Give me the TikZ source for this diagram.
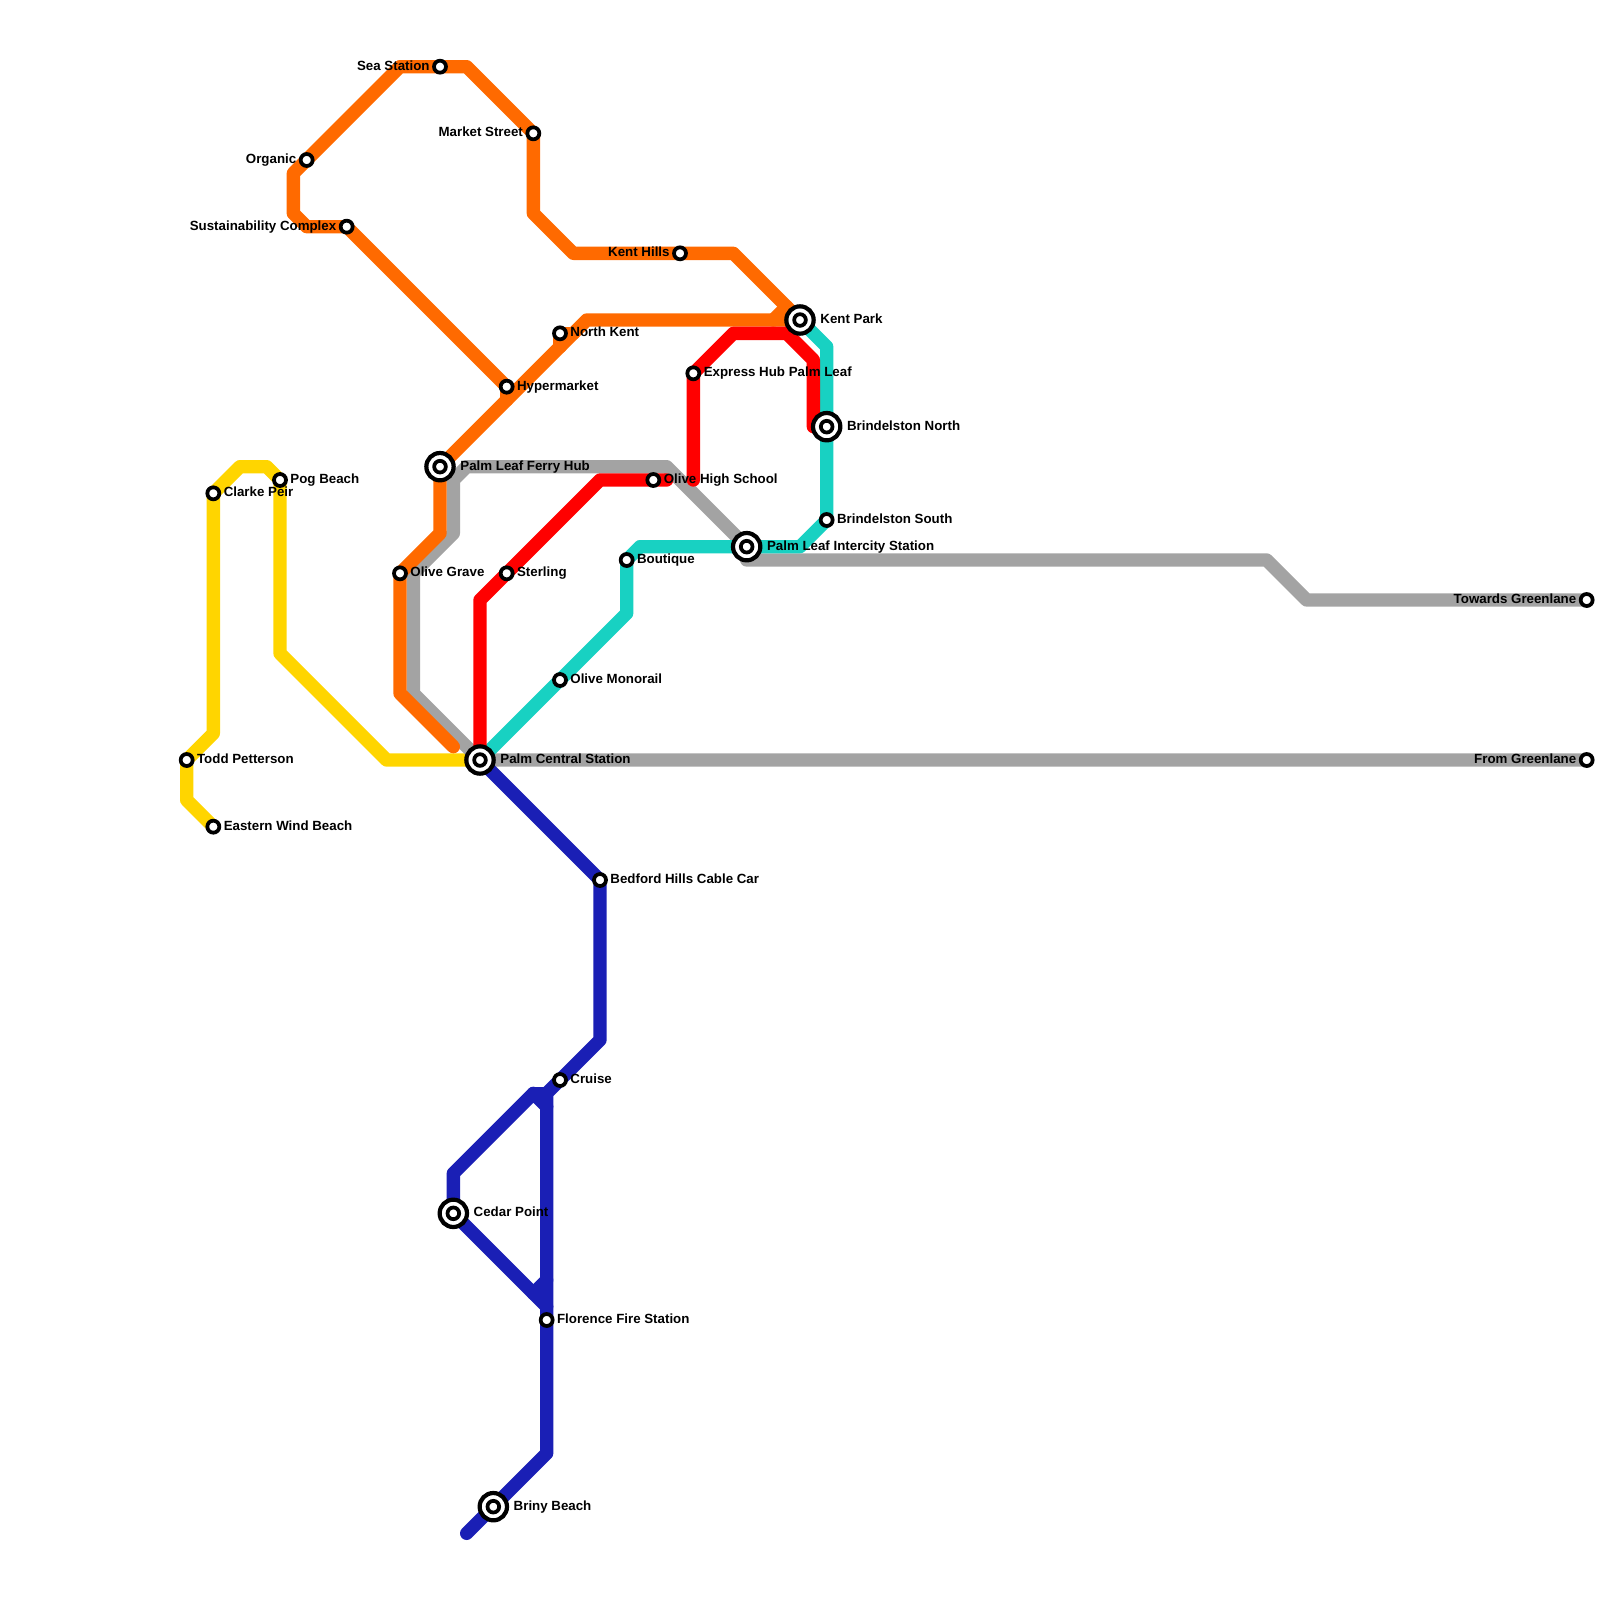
\documentclass[tikz,border=0pt]{standalone}
\usepackage{fontspec}
\setmainfont{Liberation Sans}
\usetikzlibrary{positioning}
\definecolor{lineOrange}{RGB}{255,106,0}
\definecolor{lineRed}{RGB}{255,0,0}
\definecolor{lineGrey}{RGB}{163,163,163}
\definecolor{lineTeal}{RGB}{24,209,194}
\definecolor{lineYellow}{RGB}{255,213,0}
\definecolor{lineBlue}{RGB}{26,31,181}
\pgfdeclarelayer{tracks}
\pgfsetlayers{tracks,main}
\tikzset{
  track/.style={line width=0.4cm, line cap=round, line join=round},
  stop/.style={circle, draw=black, fill=white, line width=3.2pt, minimum size=0.36cm, inner sep=0pt, outer sep=0pt},
  hubcore/.style={circle, draw=black, fill=white, line width=3.2pt, minimum size=0.35cm, inner sep=0pt, outer sep=0pt},
  hubring/.style={draw=black, fill=white, line width=3.6pt},
  stopname/.style={font=\bfseries\fontsize{11.36}{12}\selectfont, inner sep=0pt, text height=8.4pt, text depth=2.4pt, black}
}
\begin{document}
\begin{tikzpicture}[x=0.4cm, y=-0.4cm]
    \useasboundingbox (0,0) rectangle (120,120);
    % stops named to the right
    \foreach \n/\x/\y/\lbl in {northkent/42/25/North Kent, hypermarket/38/29/Hypermarket,
      expresshub/52/28/Express Hub Palm Leaf, pogbeach/21/36/Pog Beach, olivehigh/49/36/Olive High School,
      clarkepeir/16/37/Clarke Peir, brindelstonsouth/62/39/Brindelston South, boutique/47/42/Boutique,
      olivegrave/30/43/Olive Grave, sterling/38/43/Sterling, olivemonorail/42/51/Olive Monorail,
      toddpetterson/14/57/Todd Petterson, easternwind/16/62/Eastern Wind Beach,
      bedfordhills/45/66/Bedford Hills Cable Car, cruise/42/81/Cruise, florence/41/99/Florence Fire Station} {
      \node[stop] (\n) at (\x,\y) {};
      \node[stopname, right=8.7pt of \n.center] (\n name) {\lbl};
    }
    % stops named to the left
    \foreach \n/\x/\y/\lbl in {seastation/33/5/Sea Station, marketstreet/40/10/Market Street,
      organic/23/12/Organic, sustainability/26/17/Sustainability Complex, kenthills/51/19/Kent Hills,
      towardsgreenlane/119/45/Towards Greenlane, fromgreenlane/119/57/From Greenlane} {
      \node[stop] (\n) at (\x,\y) {};
      \node[stopname, left=8.7pt of \n.center] (\n name) {\lbl};
    }
    % interchanges
    \foreach \n/\x/\y/\lbl in {kentpark/60/24/Kent Park, brindelstonnorth/62/32/Brindelston North,
      ferryhub/33/35/Palm Leaf Ferry Hub, intercity/56/41/Palm Leaf Intercity Station,
      palmcentral/36/57/Palm Central Station, cedarpoint/34/91/Cedar Point, brinybeach/37/113/Briny Beach} {
      \draw[hubring] (\x,\y) circle (0.41cm);
      \node[hubcore] (\n) at (\x,\y) {};
      \node[stopname, right=17.2pt of \n.center] (\n name) {\lbl};
    }
    \begin{pgfonlayer}{tracks}
      % yellow
      \draw[track, lineYellow] (easternwind.center) -- (14,60) -- (toddpetterson.center) -- (16,55) -- (clarkepeir.center)
        -- (18,35) -- (20,35) -- (pogbeach.center) -- (21,49) -- (29,57) -- (palmcentral.center);
      % grey, both branches
      \draw[track, lineGrey] (fromgreenlane.center) -- (palmcentral.center) -- (31,52) -- (31,43) -- (34,40) -- (34,36)
        -- (35,35) -- (50,35) -- (intercity.center) -- (56,42) -- (95,42) -- (98,45) -- (towardsgreenlane.center);
      % teal
      \draw[track, lineTeal] (palmcentral.center) -- (olivemonorail.center) -- (47,46) -- (boutique.center) -- (48,41)
        -- (intercity.center) -- (60,41) -- (brindelstonsouth.center) -- (brindelstonnorth.center) -- (62,26) -- (kentpark.center);
      % blue
      \draw[track, lineBlue] (palmcentral.center) -- (bedfordhills.center) -- (45,78) -- (cruise.center) -- (41,82)
        -- (florence.center) -- (41,109) -- (brinybeach.center) -- (35,115);
      \draw[track, lineBlue] (41,83) -- (40,82) -- (34,88) -- (cedarpoint.center) -- (41,98);
      \draw[track, lineBlue] (40,82) -- (41,82);
      \draw[track, lineBlue] (40,97) -- (41,96);
      % orange
      \draw[track, lineOrange] (34,56) -- (30,52) -- (olivegrave.center) -- (33,40) -- (ferryhub.center) -- (44,24) -- (kentpark.center);
      \draw[track, lineOrange] (58,24) -- (59,23);
      \draw[track, lineOrange] (kentpark.center) -- (55,19) -- (kenthills.center) -- (43,19) -- (40,16) -- (marketstreet.center)
        -- (35,5) -- (seastation.center) -- (30,5) -- (organic.center) -- (22,13) -- (22,16) -- (23,17)
        -- (sustainability.center) -- (hypermarket.center) -- (38,30);
      \draw[track, lineOrange] (42,26) -- (northkent.center) -- (43,25);
      % red
      \draw[track, lineRed] (palmcentral.center) -- (36,45) -- (sterling.center) -- (45,36) -- (50,36);
      \draw[track, lineRed] (52,36) -- (expresshub.center) -- (55,25) -- (59,25) -- (61,27) -- (61,32) -- (brindelstonnorth.center);
    \end{pgfonlayer}
  \end{tikzpicture}
\end{document}
